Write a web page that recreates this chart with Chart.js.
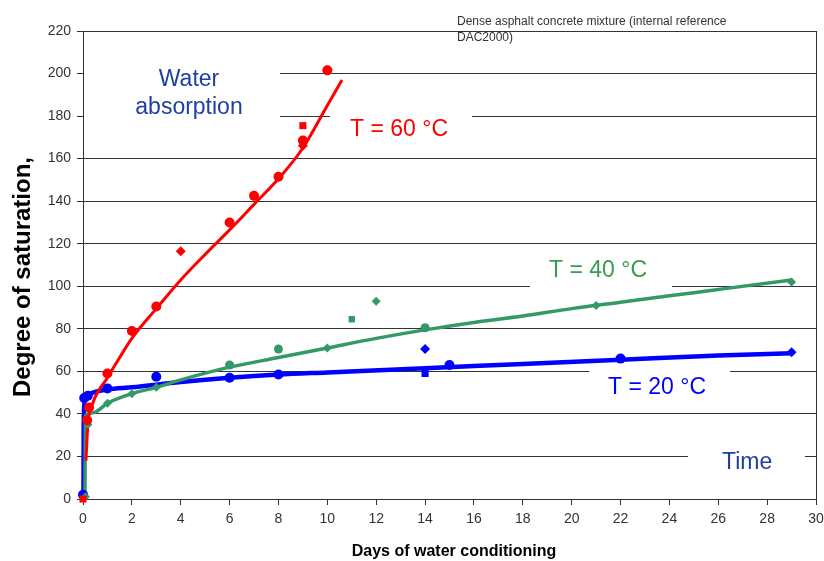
<!DOCTYPE html>
<html>
<head>
<meta charset="utf-8">
<script src="https://cdn.jsdelivr.net/npm/chart.js@4.4.0/dist/chart.umd.min.js"></script>
<style>
  html, body { margin: 0; padding: 0; background: #fff; }
  #wrap { width: 824px; height: 561px; }
</style>
</head>
<body>
<div id="wrap"><canvas id="chart" width="824" height="561"></canvas></div>
<script>
// axis ticks
const xTicks = [0, 2, 4, 6, 8, 10, 12, 14, 16, 18, 20, 22, 24, 26, 28, 30];
const yTicks = [0, 20, 40, 60, 80, 100, 120, 140, 160, 180, 200, 220];

// T = 60 °C, measured points and fitted curve
const days60 = [0, 0.17, 0.25, 1, 2, 3, 4, 6, 7, 8, 9, 9, 9, 10];
const sat60 = [0, 37, 43, 59, 79, 90.5, 116.5, 130, 142.5, 151.5, 166, 168.5, 175.5, 201.5];
const fitDays60 = [0.12, 0.2, 0.4, 1, 1.5, 2, 3, 4, 5, 6, 7, 8, 9, 10, 10.6];
const fitSat60 = [18, 35, 45, 57, 66.5, 75.5, 89.5, 103, 115, 126.5, 138.5, 150.5, 165, 185, 197];

// T = 40 °C
const days40 = [0.1, 0.2, 1, 2, 3, 6, 8, 10, 11, 12, 14, 21, 29];
const sat40 = [1, 35, 45, 49.5, 52.5, 63, 70.5, 71, 84.5, 93, 80.5, 91, 102];
const fitDays40 = [0.08, 0.1, 0.4, 1, 2, 3, 4, 6, 8, 10, 12, 14, 16, 18, 20, 22, 24, 26, 29];
const fitSat40 = [0, 39, 40.5, 45, 49.5, 52.5, 56, 62, 66.5, 71, 75.5, 79.5, 83, 86, 89.5, 92.5, 95.5, 98.5, 103];

// T = 20 °C
const days20 = [0, 0.05, 0.2, 1, 3, 6, 8, 14, 14, 15, 22, 29];
const sat20 = [2, 47.5, 48.5, 52, 57.5, 57, 58.5, 70.5, 59, 63, 66, 69];
const fitDays20 = [0.02, 0.03, 0.08, 0.3, 1, 2, 4, 6, 8, 10, 14, 18, 22, 26, 29];
const fitSat20 = [0, 36, 47, 49.5, 51.5, 52.5, 55, 57, 58.5, 59.5, 61.5, 63.5, 65.5, 67.5, 68.5];

const shapes60 = ['rect', 'circle', 'circle', 'circle', 'circle', 'circle', 'rectRot', 'circle', 'circle', 'circle', 'rectRot', 'circle', 'rect', 'circle'];
const shapes40 = ['rectRot', 'rectRot', 'rectRot', 'rectRot', 'rectRot', 'circle', 'circle', 'rectRot', 'rect', 'rectRot', 'circle', 'rectRot', 'rectRot'];
const shapes20 = ['circle', 'circle', 'circle', 'circle', 'circle', 'circle', 'circle', 'rectRot', 'rect', 'circle', 'circle', 'rectRot'];

const RED = '#ff0000';
const GREEN = '#339966';
const BLUE = '#0000ff';
const FONT = "'Liberation Sans', Arial, sans-serif";

function pts(xs, ys) {
    return xs.map((x, i) => ({ x: x, y: ys[i] }));
}

function markers(label, xs, ys, color, shapes, r) {
    return {
        type: 'scatter', label: label, data: pts(xs, ys),
        backgroundColor: color, borderColor: color, borderWidth: 0,
        pointStyle: shapes, pointRadius: r, clip: false, order: 1
    };
}

function fit(label, xs, ys, color, w) {
    return {
        type: 'line', label: label, data: pts(xs, ys),
        borderColor: color, borderWidth: w, pointRadius: 0,
        cubicInterpolationMode: 'monotone', fill: false, clip: false, order: 2
    };
}

// text boxes laid over the grid, like in the spreadsheet original
const notes = {
    id: 'notes',
    beforeDatasetsDraw(chart) {
        const ctx = chart.ctx;
        const a = chart.chartArea;
        ctx.save();
        ctx.fillStyle = '#fff';
        ctx.fillRect(a.left + 1, 62, 280 - a.left - 1, 64);
        ctx.fillRect(330, 100, 142, 48);
        ctx.fillRect(530, 252, 142, 40);
        ctx.fillRect(589, 366, 141, 42);
        ctx.fillRect(688, 444, 117, 36);
        // right frame edge
        ctx.strokeStyle = '#333';
        ctx.lineWidth = 1;
        ctx.beginPath();
        ctx.moveTo(Math.round(a.right) + 0.5, a.top);
        ctx.lineTo(Math.round(a.right) + 0.5, a.bottom);
        ctx.stroke();
        ctx.restore();
    },
    afterDraw(chart) {
        const ctx = chart.ctx;
        ctx.save();
        ctx.textBaseline = 'middle';

        ctx.font = '23px ' + FONT;
        ctx.textAlign = 'center';
        ctx.fillStyle = '#2040a0';
        ctx.fillText('Water', 189, 80);
        ctx.fillText('absorption', 189, 108);

        ctx.textAlign = 'left';
        ctx.fillStyle = RED;
        ctx.fillText('T = 60 °C', 350, 130);
        ctx.fillStyle = '#3a9a50';
        ctx.fillText('T = 40 °C', 549, 271);
        ctx.fillStyle = BLUE;
        ctx.fillText('T = 20 °C', 608, 388);
        ctx.fillStyle = '#2040a0';
        ctx.fillText('Time', 722, 463);

        ctx.font = '12px ' + FONT;
        ctx.fillStyle = '#333';
        ctx.fillText('Dense asphalt concrete mixture (internal reference', 457, 22);
        ctx.fillText('DAC2000)', 457, 38);

        ctx.fillStyle = '#000';
        ctx.font = 'bold 16px ' + FONT;
        ctx.textAlign = 'center';
        ctx.fillText('Days of water conditioning', 454, 552);

        ctx.translate(23, 277);
        ctx.rotate(-Math.PI / 2);
        ctx.font = 'bold 24px ' + FONT;
        ctx.fillText('Degree of saturation,', 0, 0);
        ctx.restore();
    }
};

new Chart(document.getElementById('chart'), {
    data: {
        datasets: [
            markers('60 °C', days60, sat60, RED, shapes60, 5),
            markers('40 °C', days40, sat40, GREEN, shapes40, 4.5),
            markers('20 °C', days20, sat20, BLUE, shapes20, 5),
            fit('60 °C fit', fitDays60, fitSat60, RED, 3),
            fit('40 °C fit', fitDays40, fitSat40, GREEN, 3.5),
            fit('20 °C fit', fitDays20, fitSat20, BLUE, 4.5)
        ]
    },
    options: {
        responsive: false,
        animation: false,
        devicePixelRatio: 1,
        layout: { padding: { top: 31, right: 8, left: 0, bottom: 0 } },
        plugins: { legend: { display: false }, tooltip: { enabled: false } },
        scales: {
            x: {
                type: 'linear', min: 0, max: 30,
                afterBuildTicks: s => { s.ticks = xTicks.map(v => ({ value: v })); },
                afterFit: s => { s.height = 62; s.paddingLeft = 0; s.paddingRight = 0; },
                grid: { drawOnChartArea: false, drawTicks: true, tickLength: 6, color: '#333' },
                border: { display: true, color: '#333', width: 1 },
                ticks: { color: '#333', padding: 6, maxRotation: 0, font: { family: FONT, size: 14 } }
            },
            y: {
                type: 'linear', min: 0, max: 220,
                afterBuildTicks: s => { s.ticks = yTicks.map(v => ({ value: v })); },
                afterFit: s => { s.width = 83; s.paddingTop = 0; s.paddingBottom = 0; },
                grid: { color: '#333', lineWidth: 1, tickLength: 6 },
                border: { display: true, color: '#333', width: 1 },
                ticks: { color: '#333', padding: 6, font: { family: FONT, size: 14 } }
            }
        }
    },
    plugins: [notes]
});
</script>
</body>
</html>
